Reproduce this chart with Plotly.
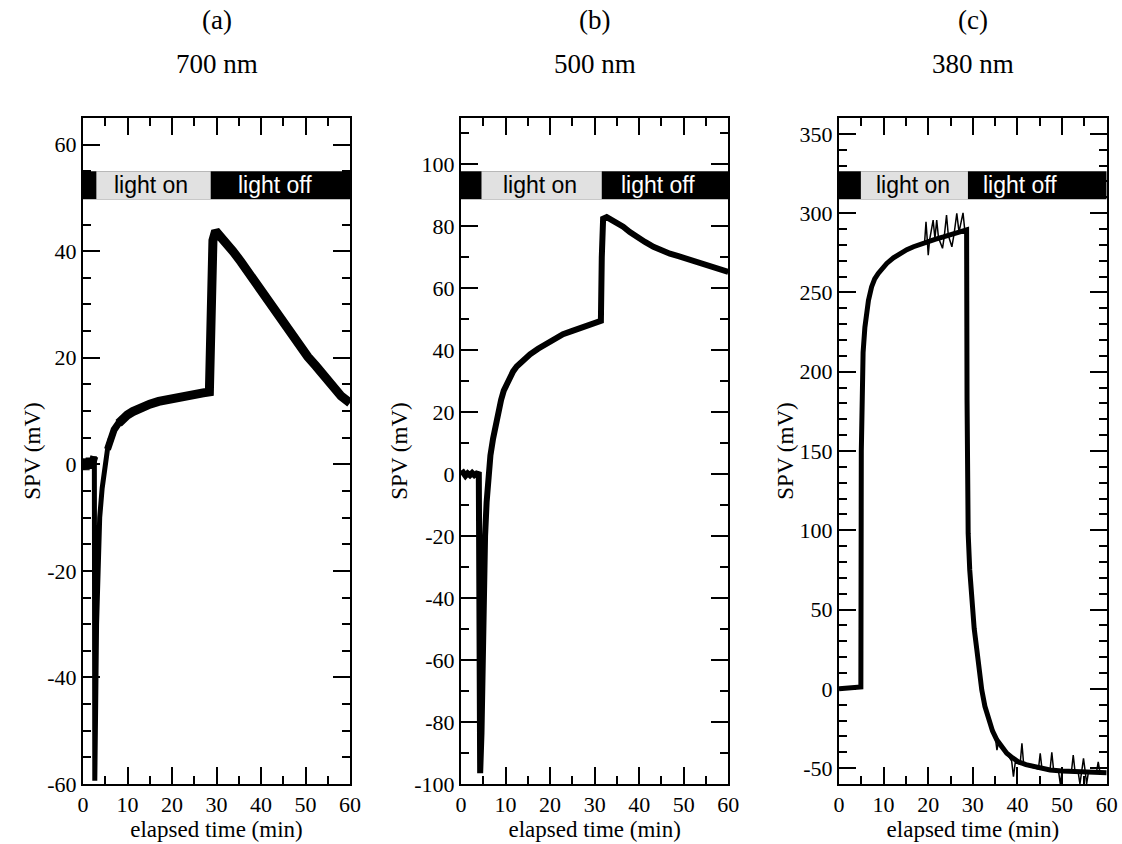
import plotly.graph_objects as go

# ---------------- data ----------------
# panel (a): noisy baseline, sharp dip, recovery + light-off decay
a_base_t = [0, 0.3, 0.6, 0.9, 1.2, 1.5, 1.8, 2.1, 2.4, 2.55]
a_base_v = [0, 1, -1, 1, -0.8, 1.2, -0.5, 1.5, 0.5, 1.5]
a_dip_t = [2.55, 2.65, 2.85, 3.05, 3.3, 3.75, 4.3, 4.9, 5.5, 6.2]
a_dip_v = [1.5, -59.4, -45, -30, -20, -10, -4.5, 0, 2.8, 5]
a_rise_t = [5.5, 6.2, 7.0, 8.0, 9.0]
a_rise_v = [2.8, 5, 6.5, 7.7, 8.6]
a_t = [8.0, 9.0, 10.0, 11.2, 13, 15, 17, 19, 21, 23, 25, 27, 28.4,
       28.55, 28.8, 29.2, 29.8, 30.5, 31.5, 32.5, 33.7, 35.5, 37.5, 39.5, 41.2, 43, 44.9,
       46.8, 48.7, 50.5, 52.4, 54.3, 56.2, 58, 60]
a_v = [7.7, 8.6, 9.3, 9.9, 10.7, 11.3, 11.8, 12.2, 12.5, 12.8, 13.1, 13.4,
       13.6, 25, 38, 42, 43.8, 43.2, 42.2, 41.2, 40, 38, 35.6, 33, 30.8, 28.6, 26.6,
       24.3, 22.2, 20.2, 18.4, 16.5, 14.6, 12.8, 11.5]

b_t = [0, 0.5, 1, 1.5, 2, 2.5, 3, 3.5, 4.0, 4.15, 4.3, 4.6, 4.85, 5.0, 5.2, 5.4, 5.75, 6.1,
       6.6, 7.2, 7.8, 8.4, 9.0, 9.6, 10.3, 11, 11.7, 12.5, 13.5, 15.5, 17.3, 19.2, 21,
       22.9, 25, 27.4, 29.5, 31.4, 31.6, 31.9, 32.7, 34, 35.2, 36.4, 37.9, 39.4, 41.3,
       43.2, 45, 46.9, 48.8, 50.7, 52.5, 54.4, 57, 60]
b_v = [0, 0.5, -0.5, 0.3, -0.3, 0.4, -0.3, 0.2, 0, -60, -96.5, -83.5, -62, -40, -29, -20,
       -9, 0, 6, 11.5, 16.5, 20.5, 24, 27, 29.5, 31.5, 33.2, 34.8, 36.3, 38.7, 40.5, 42,
       43.6, 45.2, 46.3, 47.4, 48.5, 49.5, 70, 82.5, 83, 82, 81, 79.9, 78.2, 76.6, 75,
       73.4, 72.2, 71.2, 70.4, 69.6, 68.8, 68, 66.8, 65.3]

c_t = [0, 1, 2, 3, 4, 4.9, 5.0, 5.1, 5.4, 5.8, 6.2, 6.6, 7.3, 8.0, 8.8, 9.7, 10.7, 12.2,
       13.7, 15.2, 16.7, 18.2, 19.7, 21.5, 23.4, 25.2, 27.1, 28.6, 28.7, 28.8, 28.95,
       29.3, 29.7, 30.3, 30.9, 31.4, 32.0, 32.7, 33.5, 34.4, 35.4, 36.5, 37.6, 38.9, 40.2,
       41.9, 43.6, 45.5, 47.3, 50, 52.5, 56, 60]
c_v = [0, 0.3, 0.5, 0.8, 1, 1.2, 150, 188, 212, 228, 238, 245, 253.5, 258.5, 262, 265.5,
       268.3, 271.8, 274.6, 277, 278.8, 280.5, 282, 283.5, 285, 286.8, 288.3, 289.5, 182,
       140, 98, 75, 56, 38, 24.5, 11, -0.7, -11, -19.6, -26.5, -32.3, -37, -40.6, -43.5,
       -46, -47.8, -49, -50.3, -51.2, -51.8, -52.2, -52.7, -52.9]

# narrow noise spikes on panel (c)
c_spike_t = [19.2, 19.5, 19.8, 20.0, 20.3, 21.1, 21.5, 21.9, 22.3, 23.2, 23.6, 24.1, 24.5,
             25.3, 25.8, 26.4, 26.9, 27.8, 28.2, None,
             35.0, 35.4, 35.8, 38.7, 39.1, 39.5, 40.6, 41.0, 41.4, 44.7, 45.1, 45.5, 47.3,
             47.7, 48.1, 49.2, 49.6, 50.0, 52.1, 52.5, 52.9, 53.6, 54.0, 54.4, 54.8, 55.2,
             55.5, 55.9, 57.7, 58.1, 58.5]
c_spike_v = [282, 294.5, 282.5, 273.5, 283, 295.6, 284, 295.6, 284.5, 277.8, 285.5, 298.8,
             286, 278.8, 287, 299.8, 288, 300.2, 289, None,
             -30, -38.6, -33, -45.5, -55.4, -46.5, -47.5, -34.3, -48, -50.5, -40.6, -50.7,
             -51.2, -40, -51.4, -51.8, -60, -51.9, -52.2, -41.7, -52.2, -52.3, -60, -52.4,
             -43.8, -52.5, -60, -52.5, -52.8, -46, -52.8]

panel_letters = ["(a)", "(b)", "(c)"]
wavelengths = ["700 nm", "500 nm", "380 nm"]
light_on = [(3.0, 28.7), (4.6, 31.6), (4.9, 28.9)]
on_label_x = [15.2, 17.7, 16.5]
off_label_x = [43.1, 44.3, 40.6]
y_ranges = [(-60, 65), (-100, 115), (-60, 360)]
y_tickvals = [[-60, -40, -20, 0, 20, 40, 60],
              [-100, -80, -60, -40, -20, 0, 20, 40, 60, 80, 100],
              [-50, 0, 50, 100, 150, 200, 250, 300, 350]]
y_minor = [5, 10, 10]
x_tickvals = [0, 10, 20, 30, 40, 50, 60]

# ---------------- figure ----------------
W, H = 1122, 844
x_domains = [(83 / W, 350 / W), (461 / W, 728.3 / W), (839 / W, 1106.7 / W)]
y_domain = (1 - 784 / H, 1 - 118 / H)

serif = "Liberation Serif, Times New Roman, Times, serif"
sans = "Liberation Sans, Arial, Helvetica, sans-serif"

fig = go.Figure()

traces = [(a_base_t, a_base_v, 8, ""), (a_dip_t, a_dip_v, 5, ""),
          (a_rise_t, a_rise_v, 7, ""), (a_t, a_v, 9, ""),
          (b_t, b_v, 6, "2"), (c_t, c_v, 5, "3"), (c_spike_t, c_spike_v, 1.5, "3")]
for t, v, w, suf in traces:
    fig.add_trace(go.Scatter(x=t, y=v, mode="lines", line=dict(color="black", width=w),
                             xaxis="x" + suf, yaxis="y" + suf, showlegend=False,
                             hoverinfo="skip", connectgaps=False))


def lbl(v):
    return str(v)  # plain hyphen minus, as in the reference


axis_common = dict(showline=True, linecolor="black", linewidth=2, mirror="ticks",
                   ticks="inside", ticklen=17, tickwidth=1.5, tickcolor="black",
                   showgrid=False, zeroline=False, tickmode="array",
                   tickfont=dict(family=serif, size=22, color="black"))

layout = dict(width=W, height=H, margin=dict(l=0, r=0, t=0, b=0),
              paper_bgcolor="white", plot_bgcolor="white", showlegend=False,
              font=dict(family=serif, color="black"))

shapes = []
annotations = []
for i in range(3):
    suf = "" if i == 0 else str(i + 1)
    layout["xaxis" + suf] = dict(
        axis_common, domain=list(x_domains[i]), range=[0, 60],
        tickvals=x_tickvals, ticktext=[lbl(v) for v in x_tickvals],
        anchor="y" + suf,
        minor=dict(ticks="inside", ticklen=8, tickwidth=1.5, tickcolor="black",
                   tickmode="linear", tick0=0, dtick=5),
        title=dict(text="elapsed time (min)", font=dict(family=serif, size=23, color="black"),
                   standoff=2),
        automargin=False)
    layout["yaxis" + suf] = dict(
        axis_common, domain=list(y_domain), range=list(y_ranges[i]),
        tickvals=y_tickvals[i], ticktext=[lbl(v) for v in y_tickvals[i]],
        anchor="x" + suf,
        minor=dict(ticks="inside", ticklen=8, tickwidth=1.5, tickcolor="black",
                   tickmode="linear", tick0=0, dtick=y_minor[i]),
        title=dict(text="SPV (mV)", font=dict(family=serif, size=23, color="black"),
                   standoff=0),
        automargin=False)
    # light bar
    shapes.append(dict(type="rect", xref="x" + suf, yref="y" + suf + " domain",
                       x0=0, x1=60, y0=0.878, y1=0.920, fillcolor="black",
                       line=dict(width=0), layer="above"))
    shapes.append(dict(type="rect", xref="x" + suf, yref="y" + suf + " domain",
                       x0=light_on[i][0], x1=light_on[i][1], y0=0.878, y1=0.920,
                       fillcolor="#e1e1e1", line=dict(width=0), layer="above"))
    annotations.append(dict(text="light on", xref="x" + suf, yref="y" + suf + " domain",
                            x=on_label_x[i], y=0.899, yanchor="middle", xanchor="center",
                            showarrow=False, font=dict(family=sans, size=23, color="black")))
    annotations.append(dict(text="light off", xref="x" + suf, yref="y" + suf + " domain",
                            x=off_label_x[i], y=0.899, yanchor="middle", xanchor="center",
                            showarrow=False, font=dict(family=sans, size=23, color="white")))
    cx = (x_domains[i][0] + x_domains[i][1]) / 2
    annotations.append(dict(text=panel_letters[i], xref="paper", yref="paper", x=cx,
                            y=1 - 20 / H, xanchor="center", yanchor="middle",
                            showarrow=False, font=dict(family=serif, size=27, color="black")))
    annotations.append(dict(text=wavelengths[i], xref="paper", yref="paper", x=cx,
                            y=1 - 64 / H, xanchor="center", yanchor="middle",
                            showarrow=False, font=dict(family=serif, size=27, color="black")))

layout["shapes"] = shapes
layout["annotations"] = annotations
fig.update_layout(**layout)

fig.write_html("out.html")
